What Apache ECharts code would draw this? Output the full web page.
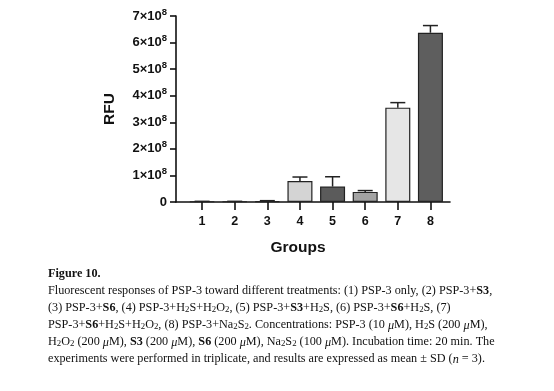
<!DOCTYPE html>
<html>
<head>
<meta charset="utf-8">
<script src="https://cdn.jsdelivr.net/npm/echarts@6/dist/echarts.min.js"></script>
<style>
html,body{margin:0;padding:0;background:#fff;}
#c{width:554px;height:391px;}
</style>
</head>
<body>
<div id="c"></div>
<script>
// ---- data ----
const groups = [1, 2, 3, 4, 5, 6, 7, 8];
const means = [0.02e8, 0.02e8, 0.03e8, 0.79e8, 0.58e8, 0.38e8, 3.55e8, 6.37e8];
const sds = [0.005e8, 0.005e8, 0.02e8, 0.15e8, 0.37e8, 0.05e8, 0.19e8, 0.27e8];
const barColors = ['#ffffff', '#ffffff', '#ffffff', '#d4d4d4', '#5b5b5b', '#a3a3a3', '#e6e6e6', '#5e5e5e'];
const yTicks = [0, 1e8, 2e8, 3e8, 4e8, 5e8, 6e8, 7e8];
const captionLines = [
  '{b|Figure 10.}',
  'Fluorescent responses of PSP-3 toward different treatments: (1) PSP-3 only, (2) PSP-3+{b|S3},',
  '(3) PSP-3+{b|S6}, (4) PSP-3+H{s|2}S+H{s|2}O{s|2}, (5) PSP-3+{b|S3}+H{s|2}S, (6) PSP-3+{b|S6}+H{s|2}S, (7)',
  'PSP-3+{b|S6}+H{s|2}S+H{s|2}O{s|2}, (8) PSP-3+Na{s|2}S{s|2}. Concentrations: PSP-3 (10 {i|μ}M), H{s|2}S (200 {i|μ}M),',
  'H{s|2}O{s|2} (200 {i|μ}M), {b|S3} (200 {i|μ}M), {b|S6} (200 {i|μ}M), Na{s|2}S{s|2} (100 {i|μ}M). Incubation time: 20 min. The',
  'experiments were performed in triplicate, and results are expressed as mean ± SD ({i|n} = 3).'
];

const chart = echarts.init(document.getElementById('c'));
const sans = 'Liberation Sans, Arial, sans-serif';
const serif = 'Liberation Serif, Times New Roman, serif';
const capFont = 12.2;

const capRich = {
  b: {fontFamily: serif, fontSize: capFont, fontWeight: 'bold', fill: '#111'},
  s: {fontFamily: serif, fontSize: 8.8, lineHeight: 4, verticalAlign: 'bottom', fill: '#111'},
  i: {fontFamily: serif, fontSize: capFont, fontStyle: 'italic', fill: '#111'}
};
const capY = [275, 292.3, 309.3, 326.3, 343.3, 360.3];
const graphics = captionLines.map((t, k) => ({
  type: 'text', left: 48, top: capY[k] - 7,
  style: {text: t, fontFamily: serif, fontSize: capFont, fill: '#111', rich: capRich}
}));

chart.setOption({
  animation: false,
  grid: {left: 176, right: 104, top: 16, bottom: 189, containLabel: false},
  xAxis: {
    type: 'value', min: 0.2, max: 8.6,
    splitLine: {show: false},
    axisLine: {show: true, lineStyle: {color: '#111', width: 1.6}},
    axisTick: {show: true, customValues: groups, length: 8, lineStyle: {color: '#111', width: 1.6}},
    axisLabel: {customValues: groups, color: '#111', fontFamily: sans, fontWeight: 'bold', fontSize: 12.5, margin: 13},
    name: 'Groups', nameLocation: 'middle', nameGap: 38,
    nameTextStyle: {color: '#111', fontFamily: sans, fontWeight: 'bold', fontSize: 15.5, padding: [0, 30, 0, 0]}
  },
  yAxis: {
    type: 'value', min: 0, max: 7e8, interval: 1e8,
    splitLine: {show: false},
    axisLine: {show: true, lineStyle: {color: '#111', width: 1.6}},
    axisTick: {show: true, length: 6, lineStyle: {color: '#111', width: 1.6}},
    axisLabel: {
      color: '#111', fontFamily: sans, fontWeight: 'bold', fontSize: 13, margin: 9, lineHeight: 18,
      formatter: v => v === 0 ? '0' : (v / 1e8) + '×10{sup|8}',
      rich: {sup: {fontFamily: sans, fontWeight: 'bold', fontSize: 9.5, lineHeight: 10, verticalAlign: 'top', color: '#111'}}
    },
    name: 'RFU', nameLocation: 'middle', nameGap: 58, nameRotate: 90,
    nameTextStyle: {color: '#111', fontFamily: sans, fontWeight: 'bold', fontSize: 15.5}
  },
  series: [
    {
      type: 'bar', barWidth: 25,
      data: groups.map((g, i) => ({value: [g, means[i]], itemStyle: {color: barColors[i]}})),
      itemStyle: {borderColor: '#222', borderWidth: 1.2}
    },
    {
      type: 'custom', z: 5,
      data: groups.map((g, i) => [g, means[i], sds[i]]),
      renderItem: (params, api) => {
        const x = api.value(0), m = api.value(1), s = api.value(2);
        const p0 = api.coord([x, m]);
        const p1 = api.coord([x, m + s]);
        const hw = 7.5;
        const st = {stroke: '#222', lineWidth: 1.5, fill: null};
        return {type: 'group', children: [
          {type: 'line', shape: {x1: p0[0], y1: p0[1], x2: p1[0], y2: p1[1]}, style: st},
          {type: 'line', shape: {x1: p1[0] - hw, y1: p1[1], x2: p1[0] + hw, y2: p1[1]}, style: st}
        ]};
      }
    }
  ],
  graphic: graphics
});
</script>
</body>
</html>
